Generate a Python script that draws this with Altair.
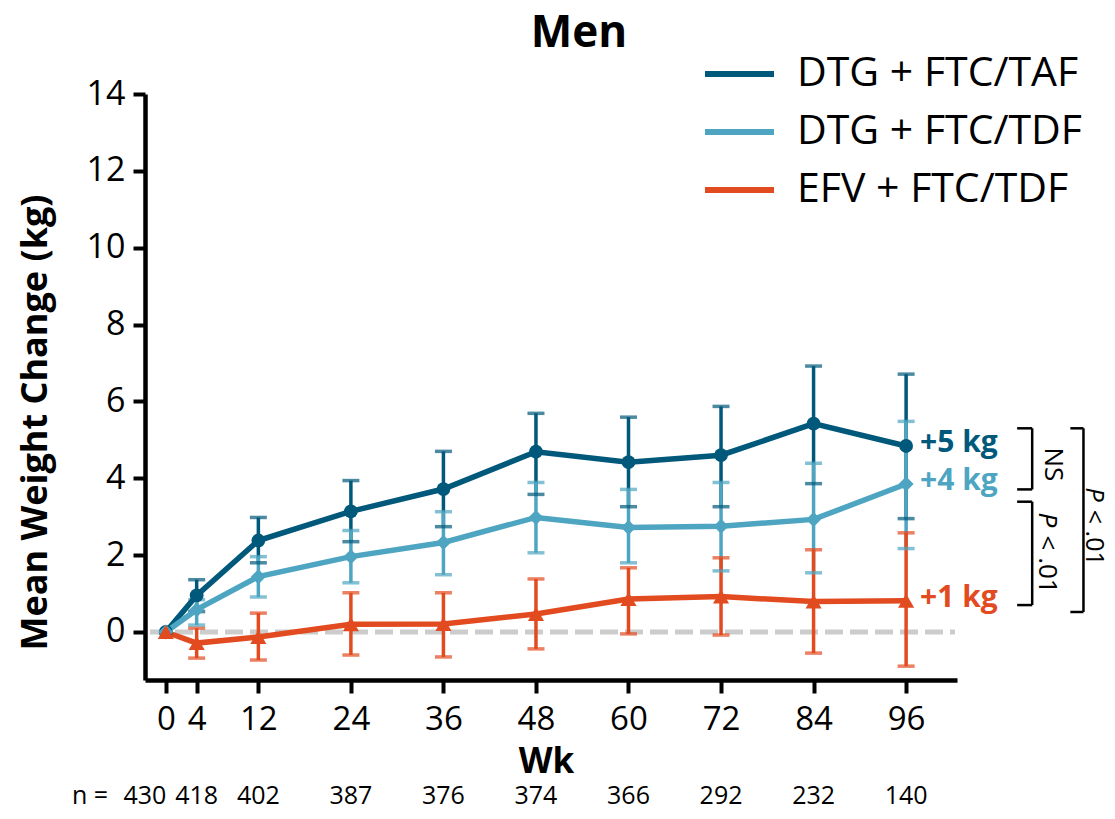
import altair as alt
import pandas as pd

# ---------------- data ----------------
weeks = [0, 4, 12, 24, 36, 48, 60, 72, 84, 96]
n_counts = [430, 418, 402, 387, 376, 374, 366, 292, 232, 140]
series_names = ["DTG + FTC/TAF", "DTG + FTC/TDF", "EFV + FTC/TDF"]
series_colors = ["#00587a", "#4ea5c2", "#e24a1f"]
series_shapes = ["circle", "diamond", "triangle-up"]

taf_mean = [0, 0.95, 2.38, 3.14, 3.72, 4.69, 4.42, 4.60, 5.42, 4.84]
taf_hi = [0, 1.36, 2.98, 3.94, 4.70, 5.69, 5.59, 5.87, 6.92, 6.71]
taf_lo = [0, 0.53, 1.80, 2.35, 2.74, 3.58, 3.26, 3.26, 3.86, 2.95]

tdf_mean = [0, 0.58, 1.44, 1.96, 2.33, 2.98, 2.72, 2.75, 2.93, 3.85]
tdf_hi = [0, 0.84, 1.96, 2.64, 3.13, 3.89, 3.71, 3.89, 4.39, 5.48]
tdf_lo = [0, 0.18, 0.91, 1.28, 1.49, 2.06, 1.80, 1.59, 1.54, 2.17]

efv_mean = [0, -0.29, -0.13, 0.20, 0.21, 0.47, 0.86, 0.92, 0.79, 0.81]
efv_hi = [0, 0.10, 0.49, 1.02, 1.02, 1.38, 1.67, 1.93, 2.14, 2.58]
efv_lo = [0, -0.68, -0.73, -0.60, -0.65, -0.44, -0.05, -0.08, -0.55, -0.89]

end_labels = ["+5 kg", "+4 kg", "+1 kg"]

# bracket annotations (weeks / kg coordinates)
brackets = [
    # x, x2, y, y2
    (110.4, 112.35, 5.30, 5.30), (112.35, 112.35, 5.30, 3.71), (110.4, 112.35, 3.71, 3.71),
    (110.4, 112.35, 3.39, 3.39), (112.35, 112.35, 3.39, 0.70), (110.4, 112.35, 0.70, 0.70),
    (117.3, 119.0, 5.30, 5.30), (119.0, 119.0, 5.30, 0.52), (117.3, 119.0, 0.52, 0.52),
]

FONT = "Open Sans"

# ---------------- tables ----------------
rows = []
for name, m, lo, hi in zip(series_names,
                           [taf_mean, tdf_mean, efv_mean],
                           [taf_lo, tdf_lo, efv_lo],
                           [taf_hi, tdf_hi, efv_hi]):
    for w, a, b, c in zip(weeks, m, lo, hi):
        rows.append({"series": name, "week": w, "mean": a, "lo": b, "hi": c})
df = pd.DataFrame(rows)
df_err = df[df["week"] > 0]
df_end = df[df["week"] == weeks[-1]].copy()
df_end["label"] = end_labels

df_n = pd.DataFrame({"week": weeks, "n": [str(v) for v in n_counts]})
df_br = pd.DataFrame(brackets, columns=["bx", "bx2", "by", "by2"])

xscale = alt.Scale(domain=[-2.7, 102.6], nice=False, zero=False)
yscale = alt.Scale(domain=[-1.25, 14], nice=False, zero=False)

xaxis = alt.Axis(values=weeks, title="Wk", grid=False, labelFont=FONT, labelFontSize=33,
                 labelColor="black", tickSize=13, tickWidth=4, tickColor="black",
                 domainColor="black", domainWidth=4.5, labelPadding=10,
                 titleFont=FONT, titleFontSize=35, titleFontWeight="bold", titleColor="black",
                 titleX=401, titleY=92, titleBaseline="alphabetic", labelFlush=False,
                 labelOverlap=False)
yaxis = alt.Axis(values=list(range(0, 15, 2)), title="Mean Weight Change (kg)", grid=False,
                 labelFont=FONT, labelFontSize=34, labelColor="black", tickSize=12,
                 tickWidth=4, tickColor="black", domainColor="black", domainWidth=4.5,
                 labelPadding=8, titleFont=FONT, titleFontSize=36, titleFontWeight="bold",
                 titleColor="black", titleAngle=270, titleX=-110, titleY=328,
                 titleBaseline="middle", titleAlign="center")


def X(field="week"):
    return alt.X(f"{field}:Q", scale=xscale, axis=xaxis)


def Y(field):
    return alt.Y(f"{field}:Q", scale=yscale, axis=yaxis)


color = alt.Color("series:N", scale=alt.Scale(domain=series_names, range=series_colors), legend=None)

base = alt.Chart(df)

zero = alt.Chart(pd.DataFrame({"z": [0]})).mark_rule(
    color="#cccccc", strokeWidth=5, strokeDash=[18, 7]
).encode(y=Y("z"), x=alt.value(5), x2=alt.value(810))

err = alt.Chart(df_err).mark_rule(strokeWidth=3.5).encode(
    x=X(), y=Y("lo"), y2="hi:Q", color=color)
cap_hi = alt.Chart(df_err).mark_tick(orient="horizontal", size=17, thickness=3.5).encode(
    x=X(), y=Y("hi"), color=color)
cap_lo = alt.Chart(df_err).mark_tick(orient="horizontal", size=17, thickness=3.5).encode(
    x=X(), y=Y("lo"), color=color)

lines = base.mark_line(strokeWidth=5.5).encode(x=X(), y=Y("mean"), color=color,
                                               detail="series:N")
points = base.mark_point(filled=True, opacity=1).encode(
    x=X(), y=Y("mean"), color=color,
    shape=alt.Shape("series:N", scale=alt.Scale(domain=series_names, range=series_shapes),
                    legend=None),
    size=alt.Size("series:N", scale=alt.Scale(domain=series_names, range=[190, 260, 220]),
                  legend=None),
)

end_text = alt.Chart(df_end).mark_text(
    align="left", baseline="middle", dx=14, dy=-3, font=FONT, fontSize=30, fontWeight="bold"
).encode(x=X(), y=Y("mean"), text="label:N", color=color)

N_Y = 710
n_text = alt.Chart(df_n[df_n["week"] > 0]).mark_text(
    align="center", baseline="alphabetic", font=FONT, fontSize=25, color="black"
).encode(x=X(), y=alt.value(N_Y), text="n:N")
n_text0 = alt.Chart(df_n[df_n["week"] == 0]).mark_text(
    align="center", baseline="alphabetic", font=FONT, fontSize=25, color="black", dx=-21
).encode(x=X(), y=alt.value(N_Y), text="n:N")
n_lab = alt.Chart(pd.DataFrame({"t": ["n ="]})).mark_text(
    align="right", baseline="alphabetic", font=FONT, fontSize=25, color="black"
).encode(x=alt.value(-37), y=alt.value(N_Y), text="t:N")

br = alt.Chart(df_br).mark_rule(color="black", strokeWidth=2.5).encode(
    x=X("bx"), x2="bx2:Q", y=Y("by"), y2="by2:Q")

ann_rows = [
    {"bx": 115.1, "by": 4.36, "t": "NS", "style": "normal", "align": "center", "fs": 26},
    {"bx": 114.3, "by": 3.11, "t": "P", "style": "italic", "align": "left", "fs": 26},
    {"bx": 114.3, "by": 2.51, "t": "< .01", "style": "normal", "align": "left", "fs": 26},
    {"bx": 120.4, "by": 3.76, "t": "P", "style": "italic", "align": "left", "fs": 25},
    {"bx": 120.4, "by": 3.18, "t": "< .01", "style": "normal", "align": "left", "fs": 25},
]
ann_layers = []
for r in ann_rows:
    ann_layers.append(
        alt.Chart(pd.DataFrame([r])).mark_text(
            angle=90, align=r["align"], baseline="middle", font=FONT, fontSize=r["fs"],
            fontStyle=r["style"], color="black"
        ).encode(x=X("bx"), y=Y("by"), text="t:N")
    )

title = alt.Chart(pd.DataFrame({"t": ["Men"]})).mark_text(
    align="center", baseline="alphabetic", font=FONT, fontSize=44, fontWeight="bold",
    color="black"
).encode(x=alt.value(434), y=alt.value(-47), text="t:N")

legend_layers = []
for i, (name, col) in enumerate(zip(series_names, series_colors)):
    ypx = -20 + 58 * i
    legend_layers.append(
        alt.Chart(pd.DataFrame({"t": [name]})).mark_rule(color=col, strokeWidth=6).encode(
            x=alt.value(560), x2=alt.value(629), y=alt.value(ypx))
    )
    legend_layers.append(
        alt.Chart(pd.DataFrame({"t": [name]})).mark_text(
            align="left", baseline="middle", font=FONT, fontSize=41, color="black"
        ).encode(x=alt.value(652), y=alt.value(ypx), text="t:N")
    )

chart = alt.layer(
    zero, err, cap_hi, cap_lo, lines, points, end_text, n_text, n_text0, n_lab, br,
    *ann_layers, title, *legend_layers
).properties(
    width=812, height=586,
    padding={"left": 137, "top": 86, "right": 150, "bottom": 131},
    autosize=alt.AutoSizeParams(type="none"),
).configure_view(stroke=None)

chart.save("out.html", embed_options={"renderer": "svg", "actions": False})
